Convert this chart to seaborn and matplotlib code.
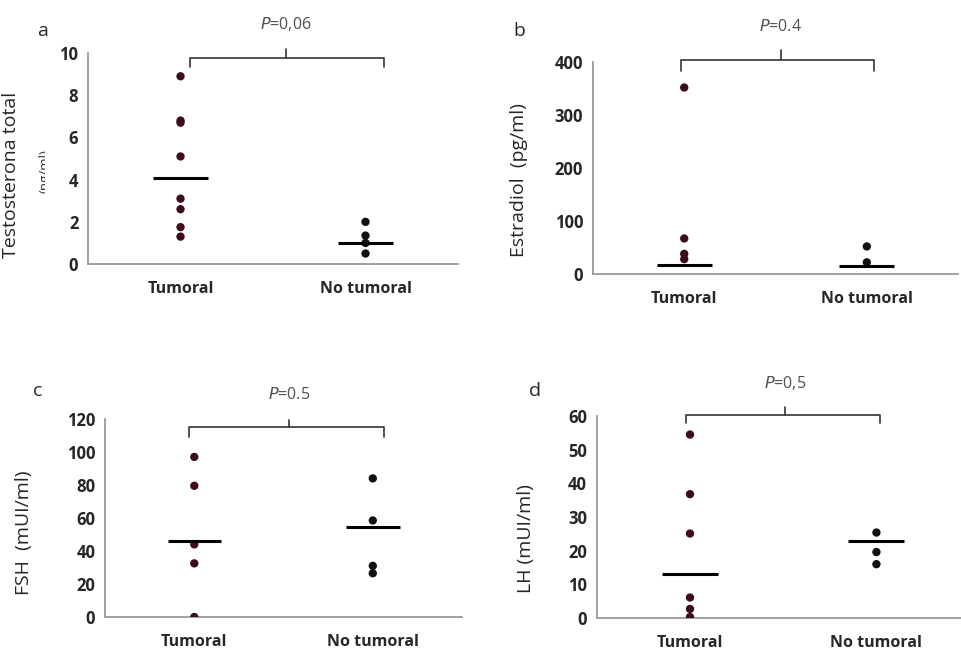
import numpy as np
import pandas as pd
import matplotlib
matplotlib.use('Agg')
import matplotlib.pyplot as plt
import seaborn as sns
from matplotlib.transforms import Bbox

sns.set_theme(style='white')
plt.rcParams['font.family'] = ['Open Sans', 'DejaVu Sans']

groups = ['Tumoral', 'No tumoral']

# panel a - testosterona total
testo_tum = [8.9, 6.8, 6.7, 5.1, 3.1, 2.6, 1.75, 1.3]
testo_no = [2.0, 1.35, 1.0, 0.5]
testo_line = [4.1, 1.0]

# panel b - estradiol
estr_tum = [352, 67, 38, 28]
estr_no = [52, 22]
estr_line = [17, 15]

# panel c - FSH
fsh_tum = [97, 79.5, 44, 32.5, 0]
fsh_no = [84, 58.5, 31, 26.5]
fsh_line = [46, 54.5]

# panel d - LH
lh_tum = [54.5, 36.8, 25.1, 6.1, 2.7, 0.3]
lh_no = [25.4, 19.6, 16.0]
lh_line = [13, 23]

p_texts = ['0,06', '0.4', '0.5', '0,5']

SPINE = '#9a9a9a'
TUM_COLOR = '#3d0b1e'
NO_COLOR = '#111111'


def make_df(tum, no):
    return pd.DataFrame({'group': [groups[0]] * len(tum) + [groups[1]] * len(no),
                         'value': list(tum) + list(no)})


def draw_panel(ax, tum, no, line, ymax, ystep, ylabel, ptext, bracket):
    df = make_df(tum, no)
    sns.stripplot(data=df, x='group', y='value', hue='group', order=groups,
                  palette={groups[0]: TUM_COLOR, groups[1]: NO_COLOR},
                  jitter=False, size=6, legend=False, ax=ax, zorder=3)
    for i, v in enumerate(line):
        ax.plot([i - 0.15, i + 0.15], [v, v], color='black', lw=2.2, zorder=4,
                solid_capstyle='butt')
    ax.set_xlim(-0.5, 1.5)
    ax.set_ylim(0, ymax)
    ax.set_yticks(np.arange(0, ymax + ystep / 2, ystep))
    ax.set_xticks([-0.5, 0.5, 1.5], minor=False)
    ax.set_xticklabels([])
    ax.set_xticks([0, 1], minor=True)
    ax.set_xticklabels(groups, minor=True, fontsize=11.5, fontweight='bold')
    ax.tick_params(axis='x', which='minor', length=0, pad=12)
    ax.tick_params(axis='x', which='major', length=4, color=SPINE, width=1.2, direction='out')
    ax.tick_params(axis='y', length=4, color=SPINE, width=1.2, direction='out',
                   labelsize=12, pad=3)
    for lab in ax.get_yticklabels():
        lab.set_fontweight('bold')
    ax.set_xlabel('')
    ax.set_ylabel(ylabel, fontsize=14)
    for s in ['top', 'right']:
        ax.spines[s].set_visible(False)
    for s in ['left', 'bottom']:
        ax.spines[s].set_color(SPINE)
        ax.spines[s].set_linewidth(1.3)
    ax.set_facecolor('white')

    # bracket with p value
    x0, x1, ytop, yleg, ynotch, xn, ytext = bracket
    ax.plot([x0, x0, x1, x1], [yleg, ytop, ytop, yleg], color='#333333', lw=1.2,
            clip_on=False)
    ax.plot([xn, xn], [ytop, ynotch], color='#333333', lw=1.2, clip_on=False)
    ax.text(xn, ytext, r'$\it{P}$=' + ptext, ha='center', va='center',
            fontsize=11.5, color='#505050', clip_on=False)
    return ax


fig = plt.figure(figsize=(9.61, 6.52), dpi=100)
fig.patch.set_facecolor('white')

ax_a = fig.add_axes([0.0916, 0.595, 0.385, 0.3236])
ax_b = fig.add_axes([0.617, 0.5798, 0.380, 0.325])
ax_c = fig.add_axes([0.1093, 0.0537, 0.3715, 0.3037])
ax_d = fig.add_axes([0.621, 0.0521, 0.388, 0.3098])

draw_panel(ax_a, testo_tum, testo_no, testo_line, 10, 2, 'Testosterona total',
           p_texts[0], (0.05, 1.10, 9.75, 9.35, 10.2, 0.57, 11.4))
draw_panel(ax_b, estr_tum, estr_no, estr_line, 400, 100, 'Estradiol  (pg/ml)',
           p_texts[1], (-0.02, 1.04, 404, 383, 423, 0.53, 466))
draw_panel(ax_c, fsh_tum, fsh_no, fsh_line, 120, 20, 'FSH  (mUI/ml)',
           p_texts[2], (-0.03, 1.06, 115, 109, 119.5, 0.53, 134.5))
draw_panel(ax_d, lh_tum, lh_no, lh_line, 60, 10, 'LH (mUI/ml)',
           p_texts[3], (-0.02, 1.02, 60.3, 57.9, 62.6, 0.51, 69.7))

# ylabel positions (pixels -> fraction)
W, H = 961, 652
ax_a.yaxis.set_label_coords(20 / W, 1 - 175 / H, transform=fig.transFigure)
ax_b.yaxis.set_label_coords(528 / W, 1 - 180 / H, transform=fig.transFigure)
ax_c.yaxis.set_label_coords(33 / W, 1 - 533 / H, transform=fig.transFigure)
ax_d.yaxis.set_label_coords(535 / W, 1 - 539 / H, transform=fig.transFigure)

# half-hidden second line of the testosterone label
t = fig.text(45 / W, 1 - 171 / H, '(ng/ml)', rotation=90, fontsize=9.5,
             ha='center', va='center', color='#333333')
t.set_clip_box(Bbox.from_extents(0, 0, 45, H))
t.set_clip_on(True)

# panel letters
for letter, (px, py) in zip(['a', 'b', 'c', 'd'],
                            [(43, 31), (519, 31), (38, 391), (535, 391)]):
    fig.text(px / W, 1 - py / H, letter, fontsize=14, ha='center', va='center')

fig.savefig('out.png', dpi=100, facecolor='white')
